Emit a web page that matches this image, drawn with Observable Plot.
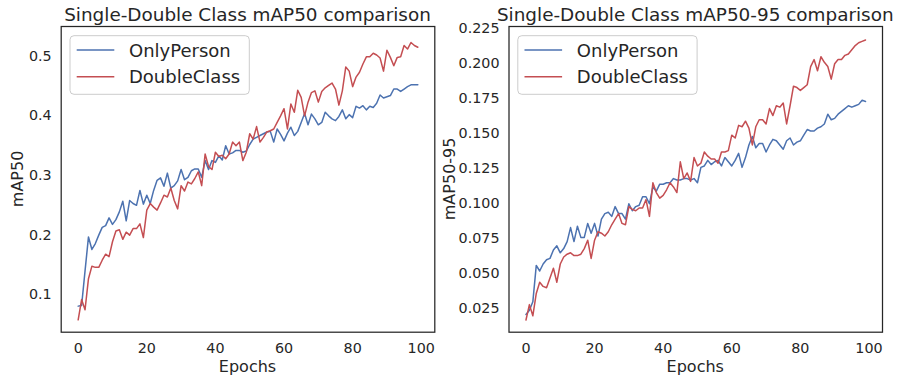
<!DOCTYPE html>
<html><head><meta charset="utf-8">
<script src="https://cdn.jsdelivr.net/npm/d3@7"></script>
<script src="https://cdn.jsdelivr.net/npm/@observablehq/plot@0.6"></script>
<style>
html,body{margin:0;padding:0;background:#fff;}
#wrap{position:relative;width:897px;height:380px;overflow:hidden;font-family:"DejaVu Sans",sans-serif;color:#262626;}
#wrap > svg, #wrap > div{position:absolute;top:0;}
</style></head><body><div id="wrap"></div>
<script>
const seriesNames = ["OnlyPerson", "DoubleClass"];
const seriesColors = ["#4c72b0", "#c44e52"];
const titles = ["Single-Double Class mAP50 comparison", "Single-Double Class mAP50-95 comparison"];
const yLabels = ["mAP50", "mAP50-95"];
const xLabel = "Epochs";
const xTicks = [0, 20, 40, 60, 80, 100];
const yTicksLeft = [0.1, 0.2, 0.3, 0.4, 0.5];
const yTicksRight = [0.025, 0.05, 0.075, 0.1, 0.125, 0.15, 0.175, 0.2, 0.225];
const epochs = d3.range(100);

const map50Only = [
 0.081,0.082,0.140,0.197,0.176,0.186,0.200,0.213,0.216,0.229,
 0.218,0.226,0.239,0.257,0.224,0.258,0.253,0.250,0.275,0.252,
 0.267,0.253,0.275,0.292,0.296,0.282,0.304,0.279,0.283,0.291,
 0.310,0.293,0.297,0.308,0.311,0.311,0.297,0.325,0.310,0.325,
 0.322,0.333,0.326,0.350,0.336,0.338,0.342,0.342,0.339,0.341,
 0.352,0.361,0.364,0.367,0.370,0.373,0.374,0.356,0.378,0.369,
 0.358,0.371,0.381,0.367,0.374,0.389,0.404,0.385,0.403,0.395,
 0.385,0.389,0.406,0.400,0.395,0.392,0.399,0.410,0.395,0.402,
 0.397,0.416,0.413,0.417,0.410,0.416,0.414,0.421,0.435,0.430,
 0.432,0.434,0.445,0.445,0.441,0.445,0.449,0.452,0.452,0.452];
const map50Double = [
 0.058,0.092,0.075,0.127,0.148,0.146,0.146,0.158,0.168,0.164,
 0.189,0.207,0.209,0.193,0.205,0.200,0.211,0.211,0.219,0.196,
 0.242,0.253,0.247,0.242,0.254,0.267,0.264,0.279,0.258,0.244,
 0.283,0.274,0.289,0.286,0.295,0.306,0.283,0.336,0.315,0.310,
 0.339,0.332,0.334,0.328,0.336,0.356,0.350,0.356,0.325,0.339,
 0.370,0.361,0.382,0.356,0.364,0.373,0.375,0.378,0.389,0.400,
 0.412,0.378,0.420,0.406,0.443,0.431,0.400,0.423,0.439,0.442,
 0.423,0.441,0.447,0.451,0.455,0.445,0.418,0.442,0.482,0.475,
 0.449,0.465,0.473,0.487,0.499,0.499,0.505,0.502,0.497,0.475,
 0.510,0.498,0.484,0.498,0.499,0.518,0.512,0.523,0.518,0.515];
const map5095Only = [
 0.021,0.024,0.030,0.056,0.052,0.057,0.060,0.061,0.067,0.070,
 0.065,0.068,0.073,0.083,0.073,0.084,0.076,0.076,0.086,0.079,
 0.086,0.077,0.089,0.093,0.094,0.091,0.098,0.093,0.093,0.089,
 0.100,0.095,0.098,0.099,0.105,0.105,0.100,0.112,0.109,0.114,
 0.114,0.115,0.115,0.118,0.117,0.117,0.118,0.118,0.117,0.118,
 0.115,0.126,0.127,0.131,0.128,0.130,0.131,0.127,0.133,0.130,
 0.127,0.131,0.136,0.126,0.133,0.142,0.148,0.140,0.143,0.143,
 0.137,0.142,0.146,0.145,0.142,0.139,0.145,0.147,0.142,0.144,
 0.145,0.149,0.153,0.152,0.152,0.154,0.155,0.157,0.164,0.160,
 0.161,0.164,0.166,0.168,0.170,0.169,0.170,0.171,0.174,0.173];
const map5095Double = [
 0.017,0.028,0.020,0.036,0.044,0.041,0.040,0.047,0.054,0.044,
 0.057,0.062,0.064,0.065,0.063,0.063,0.064,0.068,0.074,0.061,
 0.074,0.080,0.079,0.077,0.080,0.085,0.089,0.093,0.086,0.085,
 0.098,0.096,0.095,0.097,0.097,0.103,0.091,0.115,0.108,0.104,
 0.106,0.110,0.115,0.112,0.108,0.130,0.118,0.122,0.116,0.133,
 0.127,0.129,0.137,0.134,0.132,0.132,0.129,0.137,0.137,0.138,
 0.149,0.147,0.156,0.155,0.159,0.154,0.142,0.155,0.160,0.160,
 0.157,0.168,0.163,0.170,0.169,0.172,0.157,0.170,0.184,0.183,
 0.181,0.183,0.185,0.198,0.203,0.195,0.205,0.201,0.198,0.189,
 0.200,0.203,0.203,0.206,0.207,0.210,0.213,0.215,0.216,0.217];

const wrap = document.getElementById("wrap");

function panel(o) {
  const rows = [];
  o.values.forEach((arr, i) => arr.forEach((v, e) => rows.push({epoch: epochs[e], value: v, series: seriesNames[i]})));
  const svg = Plot.plot({
    width: o.width, height: 380,
    marginLeft: o.ml, marginRight: o.mr, marginTop: 26, marginBottom: 48.3,
    style: {fontFamily: "DejaVu Sans", fontSize: "14.3px", color: "#262626", background: "transparent", overflow: "visible", maxWidth: "none"},
    x: {domain: [-4.95, 103.95], ticks: xTicks, tickSize: 0, tickPadding: 11, label: null},
    y: {domain: o.yDomain, ticks: o.yTicks, tickFormat: d3.format(o.fmt), tickSize: 0, tickPadding: 9.5, label: null},
    color: {domain: seriesNames, range: seriesColors},
    marks: [
      Plot.line(rows, {x: "epoch", y: "value", z: "series", stroke: "series", strokeWidth: 1.5}),
      Plot.frame({stroke: "#262626", strokeWidth: 1.25})
    ]
  });
  svg.style.left = o.left + "px";
  wrap.appendChild(svg);
}

panel({left: 0, width: 448, ml: 60.7, mr: 13.7, yDomain: [0.0373, 0.5498], yTicks: yTicksLeft, fmt: ".1f", values: [map50Only, map50Double]});
panel({left: 448, width: 449, ml: 60.5, mr: 15, yDomain: [0.0083, 0.2266], yTicks: yTicksRight, fmt: ".3f", values: [map5095Only, map5095Double]});

// overlay for titles, axis labels and legends
const ov = d3.create("svg").attr("width", 897).attr("height", 380)
  .style("left", "0px").style("pointer-events", "none")
  .attr("font-family", "DejaVu Sans").attr("fill", "#262626");
const panels = [
  {cx: 247.5, ylx: 23.3, ox: 0},
  {cx: 695.25, ylx: 455.3, ox: 447.8}
];
panels.forEach((p, i) => {
  ov.append("text").attr("x", p.cx).attr("y", 20.5).attr("text-anchor", "middle")
    .attr("font-size", 18.4).text(titles[i]);
  ov.append("text").attr("x", p.cx).attr("y", 372).attr("text-anchor", "middle")
    .attr("font-size", 16).text(xLabel);
  ov.append("text").attr("transform", `translate(${p.ylx},178.9) rotate(-90)`).attr("text-anchor", "middle")
    .attr("font-size", 16).text(yLabels[i]);
  const g = ov.append("g").attr("transform", `translate(${p.ox},0)`);
  g.append("rect").attr("x", 70).attr("y", 35.7).attr("width", 179.3).attr("height", 58.6).attr("rx", 4)
    .attr("fill", "#fff").attr("fill-opacity", 0.8).attr("stroke", "#cccccc").attr("stroke-width", 1);
  seriesNames.forEach((name, k) => {
    g.append("line").attr("x1", 76.7).attr("x2", 114.3).attr("y1", 50 + k * 26.7).attr("y2", 50 + k * 26.7)
      .attr("stroke", seriesColors[k]).attr("stroke-width", 1.5);
    g.append("text").attr("x", 129).attr("y", 56.7 + k * 26.6).attr("font-size", 18).text(name);
  });
});
wrap.appendChild(ov.node());
</script></body></html>
